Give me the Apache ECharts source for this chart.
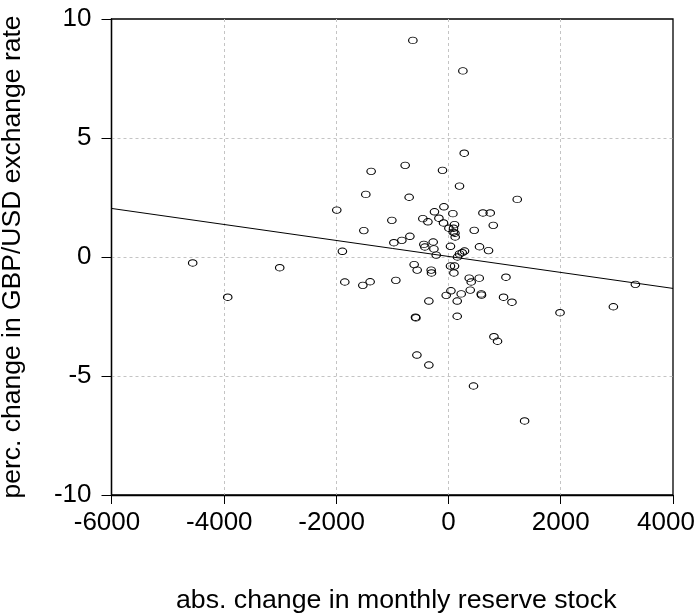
<!DOCTYPE html>
<html>
<head>
<meta charset="utf-8">
<script src="https://cdn.jsdelivr.net/npm/echarts@6/dist/echarts.min.js"></script>
<style>html,body{margin:0;padding:0;background:#fff}#c{width:696px;height:614px}</style>
</head>
<body>
<div id="c"></div>
<script>
// reserve stock change (x) and GBP/USD % change (y)
const reserveChange = [
  -633, 258, 282, -770, -1376, -105, 198, -1471, -699, 1226,
  -1988, -80, -248, 80, 615, 745, -1007, -455, -365, -169,
  -87, 109, 799, 9, 91, -1506, 460, 86, 116, 121,
  -686, -829, -971, -271, -437, -419, -258, 37, 554, 715,
  -1888, -217, 162, 198, 246, 287, -1845, -1524, -1394, -936,
  -610, -556, -307, -301, 37, 109, 98, 371, 406, 549,
  1025, 389, 45, -39, 228, 585, 590, 982, 1132, -348,
  157, -586, -579, 157, 1988, 811, 875, -561, -348, 447,
  1357, -4554, -3930, -3004, 2938, 3330
];
const fxChange = [
  9.10, 7.82, 4.36, 3.85, 3.60, 3.64, 2.98, 2.63, 2.51, 2.42,
  1.97, 2.11, 1.90, 1.82, 1.85, 1.85, 1.54, 1.61, 1.48, 1.63,
  1.43, 1.36, 1.33, 1.21, 1.21, 1.11, 1.12, 1.04, 1.00, 0.84,
  0.87, 0.70, 0.60, 0.63, 0.53, 0.42, 0.34, 0.45, 0.43, 0.27,
  0.24, 0.08, 0.00, 0.13, 0.18, 0.25, -1.05, -1.19, -1.04, -0.98,
  -0.32, -0.55, -0.55, -0.67, -0.38, -0.38, -0.67, -0.89, -1.05, -0.89,
  -0.85, -1.39, -1.42, -1.61, -1.55, -1.55, -1.60, -1.69, -1.90, -1.85,
  -1.85, -2.53, -2.56, -2.49, -2.34, -3.35, -3.54, -4.12, -4.54, -5.42,
  -6.89, -0.25, -1.69, -0.45, -2.09, -1.15
];
// fitted line end points
const fitX = [-6000, 4000];
const fitY = [2.04, -1.32];

const xTicks = [-6000, -4000, -2000, 0, 2000, 4000];
const yTicks = [-10, -5, 0, 5, 10];

const FONT = '"Liberation Sans", Arial, sans-serif';
const points = reserveChange.map((x, i) => [x, fxChange[i]]);
const fitLine = fitX.map((x, i) => [x, fitY[i]]);
const xMax = xTicks[xTicks.length - 1];

const chart = echarts.init(document.getElementById('c'), null, {renderer: 'canvas'});
chart.setOption({
  animation: false,
  backgroundColor: '#fff',
  grid: {left: 111.5, right: 23, top: 19, bottom: 119, show: true,
         containLabel: false, outerBoundsMode: 'none',
         borderColor: '#000', borderWidth: 1.3, backgroundColor: 'transparent'},
  xAxis: {
    type: 'value', min: xTicks[0], max: xMax, interval: 2000,
    name: 'abs. change in monthly reserve stock', nameLocation: 'middle', nameGap: 92,
    nameTextStyle: {fontFamily: FONT, fontSize: 26.7, color: '#000', padding: [0, 0, 0, 8]},
    axisLine: {show: true, onZero: false, lineStyle: {color: '#000', width: 1.3}},
    axisTick: {show: true, inside: false, length: 9, lineStyle: {color: '#000', width: 1}},
    axisLabel: {
      margin: 15, fontFamily: FONT, fontSize: 26, color: '#000',
      formatter: v => v < 0 ? '-' + Math.abs(v) + '{s| }'
                    : (v === xMax ? v + '{e| }' : String(v)),
      rich: {s: {width: 9, fontSize: 26, fontFamily: FONT},
             e: {width: 14, fontSize: 26, fontFamily: FONT}}
    },
    splitLine: {show: true, showMinLine: false, showMaxLine: false,
                lineStyle: {color: '#c4c4c4', width: 1, type: [3, 3]}}
  },
  yAxis: {
    type: 'value', min: yTicks[0], max: yTicks[yTicks.length - 1], interval: 5,
    name: 'perc. change in GBP/USD exchange rate', nameLocation: 'middle', nameGap: 85,
    nameTextStyle: {fontFamily: FONT, fontSize: 26.5, color: '#000'},
    axisLine: {show: true, onZero: false, lineStyle: {color: '#000', width: 1.3}},
    axisTick: {show: true, inside: false, length: 10, lineStyle: {color: '#000', width: 1}},
    axisLabel: {
      margin: 20, fontFamily: FONT, fontSize: 26, color: '#000',
      formatter: v => String(v)
    },
    splitLine: {show: true, showMinLine: false, showMaxLine: false,
                lineStyle: {color: '#c4c4c4', width: 1, type: [3, 3]}}
  },
  series: [
    {
      type: 'line', data: fitLine, symbol: 'none', silent: true,
      lineStyle: {color: '#000', width: 1}, z: 3
    },
    {
      type: 'scatter', data: points,
      symbol: 'path://M0,5A7,5 0 1,0 14,5A7,5 0 1,0 0,5Z',
      symbolSize: [8.5, 6.5], symbolKeepAspect: false,
      itemStyle: {color: 'rgba(0,0,0,0)', borderColor: '#000', borderWidth: 1, opacity: 1},
      z: 4
    }
  ]
});
</script>
</body>
</html>
